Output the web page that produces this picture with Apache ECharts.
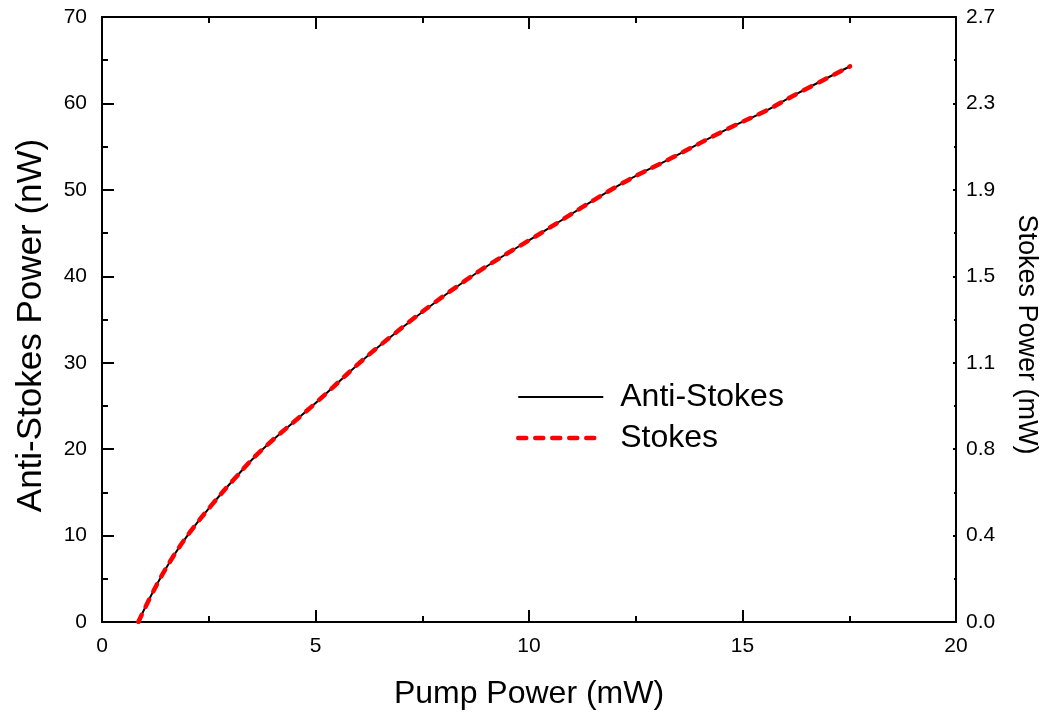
<!DOCTYPE html>
<html>
<head>
<meta charset="utf-8">
<script src="https://cdn.jsdelivr.net/npm/echarts@6/dist/echarts.min.js"></script>
<style>html,body{margin:0;padding:0;background:#fff}#c{width:1053px;height:719px}</style>
</head>
<body>
<div id="c"></div>
<script>
// Pump power (mW)
const pump = [0.85, 1.28, 1.67, 2.06, 2.58, 3.07, 3.70, 4.95, 6.51, 8.54, 10.41, 12.13, 13.38, 14.63, 15.57, 16.19, 17.52];
// Anti-Stokes power (nW)
const antiStokes = [0, 4.3, 7.6, 10.4, 13.6, 16.4, 19.7, 25.1, 32.0, 39.6, 45.4, 50.6, 53.8, 57.0, 59.2, 60.9, 64.3];
// Stokes power (mW)
const stokes = [0, 0.163, 0.289, 0.395, 0.517, 0.623, 0.749, 0.954, 1.216, 1.505, 1.725, 1.923, 2.044, 2.166, 2.250, 2.314, 2.443];

const FONT = 'Liberation Sans, Arial, sans-serif';
const chart = echarts.init(document.getElementById('c'), null, {renderer: 'canvas'});
const axisLine = {show: true, onZero: false, lineStyle: {color: '#000', width: 2}};
const majorTick = {show: true, inside: true, length: 12, lineStyle: {color: '#000', width: 2}};
const minorTick = {show: true, splitNumber: 2, length: 6, lineStyle: {color: '#000', width: 2}};
const redDash = {color: '#ff0000', width: 4.5, type: [8, 9], cap: 'round'};
chart.setOption({
  animation: false,
  backgroundColor: '#fff',
  grid: {left: 102, right: 97, top: 17, bottom: 97},
  legend: {
    orient: 'vertical', left: 511, top: 376, itemWidth: 85, itemHeight: 14, itemGap: 9,
    itemStyle: {opacity: 0},
    textStyle: {fontFamily: FONT, fontSize: 32, lineHeight: 32, color: '#000', padding: [0, 0, 0, 12]},
    data: [
      {name: 'Anti-Stokes', lineStyle: {color: '#000', width: 2}},
      {name: 'Stokes', lineStyle: redDash}
    ]
  },
  xAxis: [{
    type: 'value', min: 0, max: 20, interval: 5, position: 'bottom',
    name: 'Pump Power (mW)', nameLocation: 'middle', nameGap: 56,
    nameTextStyle: {fontFamily: FONT, fontSize: 32, color: '#000'},
    axisLine: axisLine, axisTick: majorTick, minorTick: minorTick,
    axisLabel: {fontFamily: FONT, fontSize: 21, color: '#000', margin: 14},
    splitLine: {show: false}
  }, {
    type: 'value', min: 0, max: 20, interval: 5, position: 'top',
    axisLine: axisLine, axisTick: majorTick, minorTick: minorTick,
    axisLabel: {show: false}, splitLine: {show: false}
  }],
  yAxis: [{
    type: 'value', min: 0, max: 70, interval: 10, position: 'left',
    name: 'Anti-Stokes Power (nW)', nameLocation: 'middle', nameGap: 53,
    nameTextStyle: {fontFamily: FONT, fontSize: 35, color: '#000', padding: [0, 12, 0, 0]},
    axisLine: axisLine, axisTick: majorTick, minorTick: minorTick,
    axisLabel: {fontFamily: FONT, fontSize: 21, color: '#000', margin: 15},
    splitLine: {show: false}
  }, {
    type: 'value', min: 0, max: 2.66, interval: 0.38, position: 'right',
    name: 'Stokes Power (mW)', nameLocation: 'middle', nameGap: 57, nameRotate: -90,
    nameTextStyle: {fontFamily: FONT, fontSize: 27, color: '#000', padding: [0, 0, 0, 30]},
    axisLine: axisLine,
    axisTick: {show: true, inside: true, length: 3, lineStyle: {color: '#000', width: 2}},
    minorTick: {show: true, splitNumber: 2, length: 2, lineStyle: {color: '#000', width: 2}},
    axisLabel: {fontFamily: FONT, fontSize: 21, color: '#000', margin: 10,
      formatter: v => v.toFixed(1)},
    splitLine: {show: false}
  }],
  series: [{
    name: 'Anti-Stokes', type: 'line', smooth: 0.4, symbol: 'none',
    xAxisIndex: 0, yAxisIndex: 0,
    color: '#000',
    lineStyle: {color: '#000', width: 2},
    data: pump.map((x, i) => [x, antiStokes[i]])
  }, {
    name: 'Stokes', type: 'line', smooth: 0.4, symbol: 'none',
    xAxisIndex: 0, yAxisIndex: 1,
    color: '#ff0000',
    lineStyle: redDash,
    data: pump.map((x, i) => [x, stokes[i]])
  }]
});
</script>
</body>
</html>
